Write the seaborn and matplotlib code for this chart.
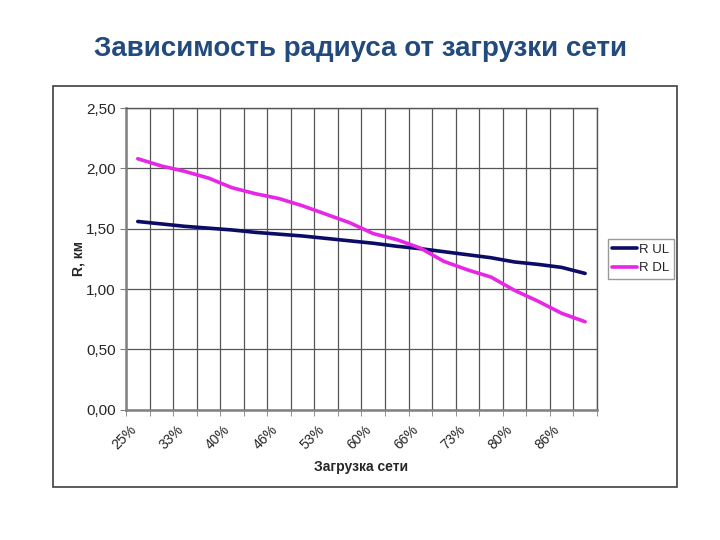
import seaborn as sns
import matplotlib.pyplot as plt
import matplotlib.patches as mpatches
from matplotlib.ticker import FuncFormatter, MultipleLocator
import pandas as pd

# категории загрузки сети (подписан каждый второй)
load = ['25%', '29%', '33%', '36%', '40%', '43%', '46%', '50%', '53%', '56%',
        '60%', '63%', '66%', '70%', '73%', '76%', '80%', '83%', '86%', '90%']
r_ul = [1.56, 1.54, 1.52, 1.505, 1.49, 1.47, 1.455, 1.44, 1.42, 1.40,
        1.38, 1.355, 1.335, 1.31, 1.285, 1.26, 1.225, 1.205, 1.18, 1.13]
r_dl = [2.08, 2.02, 1.975, 1.92, 1.84, 1.79, 1.75, 1.69, 1.62, 1.55,
        1.46, 1.41, 1.34, 1.23, 1.16, 1.10, 0.99, 0.90, 0.80, 0.73]

df = pd.DataFrame({'load': load * 2,
                   'R': r_ul + r_dl,
                   'series': ['R UL'] * len(load) + ['R DL'] * len(load)})

sns.set_style('white')
plt.rcParams['font.family'] = ['Liberation Sans', 'DejaVu Sans']

fig = plt.figure(figsize=(7.2, 5.4), dpi=100)
# рамка области диаграммы
fig.patches.append(mpatches.Rectangle((0.074, 0.098), 0.866, 0.743, transform=fig.transFigure,
                                      fill=False, edgecolor='#404040', linewidth=1.2))
ax = fig.add_axes([0.175, 0.241, 0.654, 0.559])

sns.lineplot(data=df, x='load', y='R', hue='series', ax=ax,
             palette={'R UL': '#0c0c66', 'R DL': '#e628e6'}, linewidth=2.6, sort=False)

n = len(load)
ax.set_xlim(-0.5, n - 0.5)
ax.set_ylim(0, 2.5)
ax.yaxis.set_major_locator(MultipleLocator(0.5))
ax.yaxis.set_major_formatter(FuncFormatter(lambda v, p: f'{v:.2f}'.replace('.', ',')))

# подписи чуть левее центра категории, как в Excel
ax.set_xticks([i - 0.38 for i in range(0, n, 2)])
ax.set_xticklabels(load[::2], rotation=45, ha='right', rotation_mode='anchor', fontsize=10)
ax.set_xticks([i - 0.5 for i in range(n + 1)], minor=True)
ax.tick_params(axis='x', which='major', length=0, pad=9)
ax.tick_params(axis='x', which='minor', length=4, color='#808080', direction='out', bottom=True)
ax.tick_params(axis='y', length=4, color='#808080', direction='out', left=True, labelsize=11)

ax.grid(True, which='minor', axis='x', color='#555555', linewidth=0.9)
ax.grid(True, which='major', axis='y', color='#555555', linewidth=0.9)
for side in ['top', 'right']:
    ax.spines[side].set_color('#555555')
    ax.spines[side].set_linewidth(1.0)
for side in ['left', 'bottom']:
    ax.spines[side].set_color('#808080')
    ax.spines[side].set_linewidth(1.8)

ax.set_xlabel('Загрузка сети', fontsize=10, fontweight='bold', labelpad=6)
ax.set_ylabel('R, км', fontsize=10, fontweight='bold', labelpad=0)

leg = ax.legend(loc='center left', bbox_to_anchor=(1.023, 0.5), frameon=True, fancybox=False,
                fontsize=9.5, handlelength=1.9, handletextpad=0.15, borderpad=0.35,
                labelspacing=0.45, borderaxespad=0)
leg.get_frame().set_edgecolor('#808080')

fig.text(0.5, 0.91, 'Зависимость радиуса от загрузки сети', ha='center', va='center',
         fontsize=20, fontweight='bold', color='#234a7c')

plt.savefig('out.png', dpi=100)
